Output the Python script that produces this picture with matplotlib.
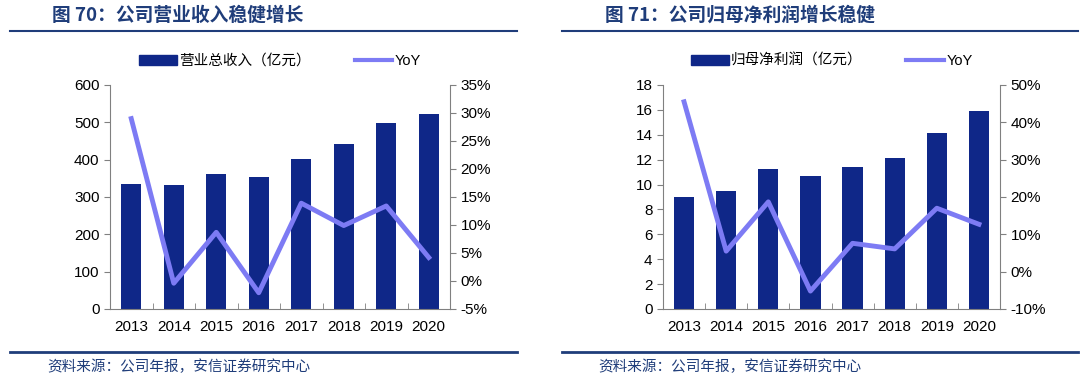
import matplotlib.pyplot as plt
from matplotlib.ticker import FuncFormatter, MultipleLocator
from matplotlib.lines import Line2D

plt.rcParams['font.family'] = ['Liberation Sans', 'Noto Sans CJK SC', 'DejaVu Sans']

years = ['2013', '2014', '2015', '2016', '2017', '2018', '2019', '2020']
revenue = [334, 332, 361, 353, 401, 441, 499, 521]
revenue_yoy = [29.0, -0.4, 8.7, -2.1, 13.9, 9.9, 13.4, 4.2]
profit = [9.0, 9.5, 11.25, 10.66, 11.44, 12.13, 14.17, 15.94]
profit_yoy = [45.5, 5.5, 18.7, -5.2, 7.6, 6.1, 17.0, 12.7]

bar_c = '#0F2788'
line_c = '#7D7BF4'
title_c = '#1F3D7A'
W, H = 1080, 384

fig = plt.figure(figsize=(W / 100, H / 100), dpi=100)

def px(x0, y0, x1, y1):
    return [x0 / W, 1 - y1 / H, (x1 - x0) / W, (y1 - y0) / H]

def panel(box, vals, yoy, ylim, ystep, rlim, rstep, label, title, tx, line_x, src_x):
    ax = fig.add_axes(px(*box))
    x = range(len(years))
    ax.bar(x, vals, width=0.48, color=bar_c, zorder=2)
    ax.set_xlim(-0.5, len(years) - 0.5)
    ax.set_ylim(*ylim)
    ax.yaxis.set_major_locator(MultipleLocator(ystep))
    ax.set_xticks(list(x))
    ax.set_xticklabels(years)
    ax.set_xticks([i + 0.5 for i in range(len(years) - 1)], minor=True)
    ax.tick_params(axis='x', which='major', length=0, labelsize=11, pad=8)
    ax.tick_params(axis='x', which='minor', direction='in', length=4, color='#808080')
    ax.tick_params(axis='y', direction='out', length=4, color='#808080', labelsize=11)
    for s in ['top', 'right']:
        ax.spines[s].set_visible(False)
    for s in ['left', 'bottom']:
        ax.spines[s].set_color('#808080')
    ax2 = ax.twinx()
    ax2.plot(list(x), yoy, color=line_c, lw=3.5, zorder=3)
    ax2.set_ylim(*rlim)
    ax2.yaxis.set_major_locator(MultipleLocator(rstep))
    ax2.yaxis.set_major_formatter(FuncFormatter(lambda v, p: f'{v:.0f}%'))
    ax2.tick_params(axis='y', direction='out', length=4, color='#808080', labelsize=11)
    for s in ['top', 'left', 'bottom']:
        ax2.spines[s].set_visible(False)
    ax2.spines['right'].set_color('#808080')

    handles = [plt.Rectangle((0, 0), 1, 1, color=bar_c),
               Line2D([0], [0], color=line_c, lw=3)]
    fig.legend(handles, [label, 'YoY'], loc='center',
               bbox_to_anchor=((box[0] + box[2]) / 2 / W, 1 - 61 / H),
               ncol=2, frameon=False, fontsize=10.5, handlelength=2.6,
               handletextpad=0.15, columnspacing=3.0)

    fig.text(tx / W, 1 - 15 / H, title, fontsize=13.5, fontweight='bold',
             color=title_c, va='center', family=['Noto Sans CJK SC', 'DejaVu Sans'])
    fig.add_artist(Line2D([line_x[0] / W, line_x[1] / W], [1 - 31 / H] * 2,
                          color=title_c, lw=1.5))
    fig.add_artist(Line2D([line_x[0] / W, line_x[1] / W], [1 - 352 / H] * 2,
                          color=title_c, lw=2))
    fig.text(src_x / W, 1 - 367 / H, '资料来源：公司年报，安信证券研究中心',
             fontsize=10.5, style='italic', color=title_c, va='center',
             family=['Noto Sans CJK SC', 'DejaVu Sans'])

panel((110, 85, 450, 309), revenue, revenue_yoy, (0, 600), 100, (-5, 35), 5,
      '营业总收入（亿元）', '图 70：公司营业收入稳健增长', 52, (10, 517), 47)
panel((663, 85, 1000, 309), profit, profit_yoy, (0, 18), 2, (-10, 50), 10,
      '归母净利润（亿元）', '图 71：公司归母净利润增长稳健', 605, (562, 1078), 598)

fig.savefig('out.png', dpi=100)
